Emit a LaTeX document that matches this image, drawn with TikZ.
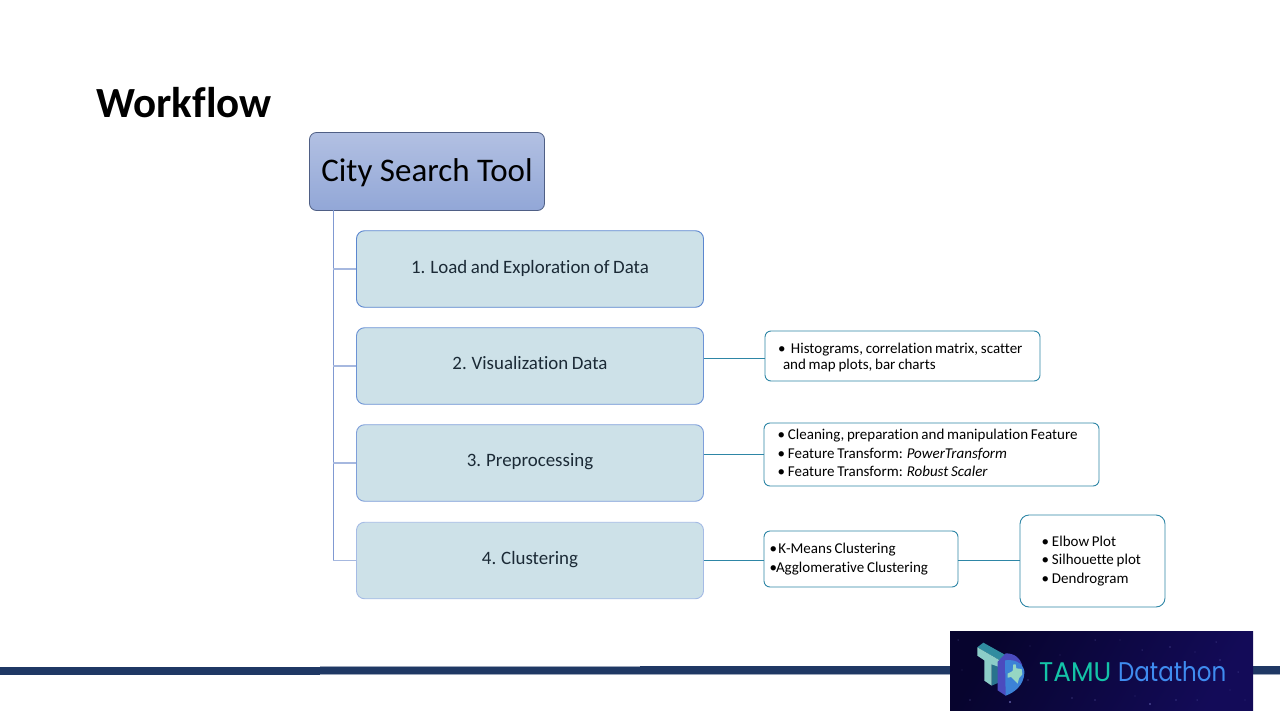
\documentclass[tikz,border=0pt]{standalone}
\usepackage{fontspec}
\setmainfont[WordSpace=0.82,Ligatures=NoCommon]{Carlito}
\newfontfamily\rootfont[Ligatures=NoCommon]{Carlito}
\newfontfamily\logofont{Poppins}
\usetikzlibrary{calc}
\definecolor{barnavy}{HTML}{1F3864}
\definecolor{trunk}{HTML}{8099D2}
\definecolor{stepfill}{HTML}{CDE1E8}
\definecolor{stepedge}{HTML}{7F9FDA}
\definecolor{stepedgeA}{HTML}{5B86CF}
\definecolor{stepedgeB}{HTML}{6C93D5}
\definecolor{stepedgeC}{HTML}{A5BBE5}
\definecolor{rootedge}{HTML}{4F5F85}
\definecolor{teal}{HTML}{2E86A6}
\definecolor{inktext}{HTML}{1B2A36}
\definecolor{rootA}{HTML}{B2C0E2}
\definecolor{rootB}{HTML}{92A7D7}
\definecolor{logoA}{HTML}{07042E}
\definecolor{logoB}{HTML}{130B58}
\definecolor{logoteal}{HTML}{14C4A8}
\definecolor{logoblue}{HTML}{3F8CF0}
\tikzset{
  px/.style={x=1pt,y=-1pt},
  rootbox/.style={draw=rootedge,line width=.8pt,rounded corners=7pt,top color=rootA,bottom color=rootB,
    minimum width=235pt,minimum height=78pt,inner sep=0pt,font=\fontsize{33}{38}\selectfont\rootfont},
  stepbox/.style={draw=stepedge,line width=.9pt,rounded corners=8pt,fill=stepfill,text=inktext,
    minimum width=347pt,minimum height=76.5pt,inner sep=0pt,font=\fontsize{18.9}{22}\selectfont},
  detail/.style={draw=teal,line width=.9pt,rounded corners=6pt,fill=white,align=flush left,
    inner ysep=0pt,font=\fontsize{15}{18.4}\selectfont},
  trunkline/.style={draw=trunk,line width=1pt},
  stemline/.style={draw=trunk!70,line width=1.3pt},
  linkline/.style={draw=teal,line width=.9pt},
  bar/.style={fill=barnavy,draw=none},
  logotext/.style={anchor=base west,inner sep=0pt,font=\fontsize{27}{30}\selectfont\logofont}
}
\newcommand{\blt}[1]{\makebox[#1][l]{•}}
\newcommand{\drop}[2]{\raisebox{-#1}[0pt][0pt]{#2}}
\begin{document}
\begin{tikzpicture}[px]
\useasboundingbox (0,0) rectangle (1280,720);
\fill[white] (0,0) rectangle (1280,720);
% footer bar
\fill[bar] (0,667) rectangle (320,675);
\fill[barnavy!45] (320,666) rectangle (640,675);
\fill[bar] (320,666.6) rectangle (640,674.2);
\fill[barnavy!45] (640,666) rectangle (1280,674.5);
\fill[bar] (640,666.2) rectangle (1280,674);
% title
\node[anchor=base west,inner sep=0pt,font=\fontsize{43}{46}\selectfont\bfseries] (title) at (96,117) {Workflow};
% hierarchy
\node[rootbox] (root) at (427,171.5) {\drop{10pt}{City Search Tool}};
\node[stepbox,draw=stepedgeA] (s1) at (530,269) {\drop{4pt}{1. Load and Exploration of Data}};
\node[stepbox,draw=stepedgeB] (s2) at (530,366) {\drop{3.7pt}{2. Visualization Data}};
\node[stepbox] (s3) at (530,463) {\drop{3.7pt}{3. Preprocessing}};
\node[stepbox,draw=stepedgeC] (s4) at (530,560.5) {\drop{3.5pt}{4. Clustering}};
\coordinate (tr) at (333,210);
\draw[trunkline] (tr) -- (tr |- s4.west);
\draw[stemline] (tr |- s1.west) -- (s1.west);
\draw[stemline] (tr |- s2.west) -- (s2.west);
\draw[stemline] (tr |- s3.west) -- (s3.west);
\draw[stemline] (tr |- s4.west) -- (s4.west);
% details
\node[detail,inner xsep=13pt,text width=249pt,minimum height=50pt,font=\fontsize{15}{16.2}\selectfont] (d1) at (902.5,356)
  {\rule{0pt}{14pt}\blt{13pt}Histograms, correlation matrix, scatter\\\hspace*{5pt}and map plots, bar charts};
\node[detail,inner xsep=13.5pt,text width=308pt,minimum height=63pt] (d2) at (931.5,454.5)
  {\blt{10.5pt}Cleaning, preparation and manipulation Feature\\
   \blt{10.5pt}Feature Transform: \textit{PowerTransform}\\
   \blt{10.5pt}Feature Transform: \textit{Robust Scaler}\vspace*{3pt}};
\node[detail,inner xsep=5.5pt,text width=183pt,minimum height=56pt] (d3) at (861,559)
  {\blt{9pt}K-Means Clustering\\\blt{6.5pt}Agglomerative Clustering};
\node[detail,inner xsep=21.5pt,text width=102pt,minimum height=92pt,rounded corners=9pt] (d4) at (1092.5,561)
  {\blt{10.5pt}Elbow Plot\\\blt{10.5pt}Silhouette plot\\\blt{10.5pt}Dendrogram};
\coordinate (l1) at ($(s2.east)+(0,-8)$);
\coordinate (l2) at ($(s3.east)+(0,-9)$);
\draw[linkline] (l1) -- (l1 -| d1.west);
\draw[linkline] (l2) -- (l2 -| d2.west);
\draw[linkline] (s4.east) -- (s4.east -| d3.west);
\coordinate (l4) at (d3.east |- s4.east);
\draw[linkline] (l4) -- (l4 -| d4.west);
% logo
\shade[left color=logoA,right color=logoB,shading angle=60] (950,631) rectangle (1253,710);
\foreach \sx/\sy/\sr in {958/640/.5,970/700/.7,985/655/.4,1010/702/1.1,1030/646/.4,1028/680/.6,1060/655/.4,1072/698/.6,1095/640/.5,1095/700/.6,1120/640/.4,1135/696/.4,1142/650/.5,1170/647/.7,1176/700/.7,1195/652/.4,1197/700/.5,1210/676/.4,1220/660/.6,1230/690/.4,1238/672/.5,1245/700/.4,1216/642/.5,1150/704/.8,1000/690/.4,962/670/.4}
  \fill[blue!35!white,opacity=.55] (\sx,\sy) circle (\sr pt);
\begin{scope}[shift={(965,635)},x=.3333pt,y=-.3333pt]
  \fill[fill={rgb,255:red,48;green,140;blue,160}] (37,37) -- (55,23) -- (125,62) -- (108,78) -- cycle;
  \fill[fill={rgb,255:red,40;green,115;blue,140}] (80,88) -- (108,78) -- (108,140) -- (80,152) -- cycle;
  \fill[fill={rgb,255:red,140;green,205;blue,200}] (37,37) -- (108,78) -- (100,95) -- (80,88) -- (80,152) -- (58,137) -- (58,76) -- (37,62) -- cycle;
  \fill[fill={rgb,255:red,75;green,75;blue,190}] (98,80) -- (122,55) .. controls (150,55) and (165,70) .. (172,90) -- (122,182) -- (98,166) -- cycle;
  \fill[fill={rgb,255:red,60;green,130;blue,215}] (120,76) .. controls (160,70) and (180,95) .. (178,115) .. controls (176,150) and (150,172) .. (122,182) -- cycle;
  \fill[fill={rgb,255:red,150;green,215;blue,195}] (145,88) -- (152,88) -- (154,100) -- (170,102) -- (172,118) -- (162,130) -- (158,146) -- (148,136) -- (138,126) -- (128,128) -- (128,116) -- (143,108) -- cycle;
\end{scope}
\node[logotext,text=logoteal] (lt) at (1039,681) {\scalebox{.97}[1]{TAMU}};
\node[logotext,text=logoblue] (lb) at (1118,681) {\scalebox{.85}[1]{Datathon}};
\end{tikzpicture}
\end{document}
